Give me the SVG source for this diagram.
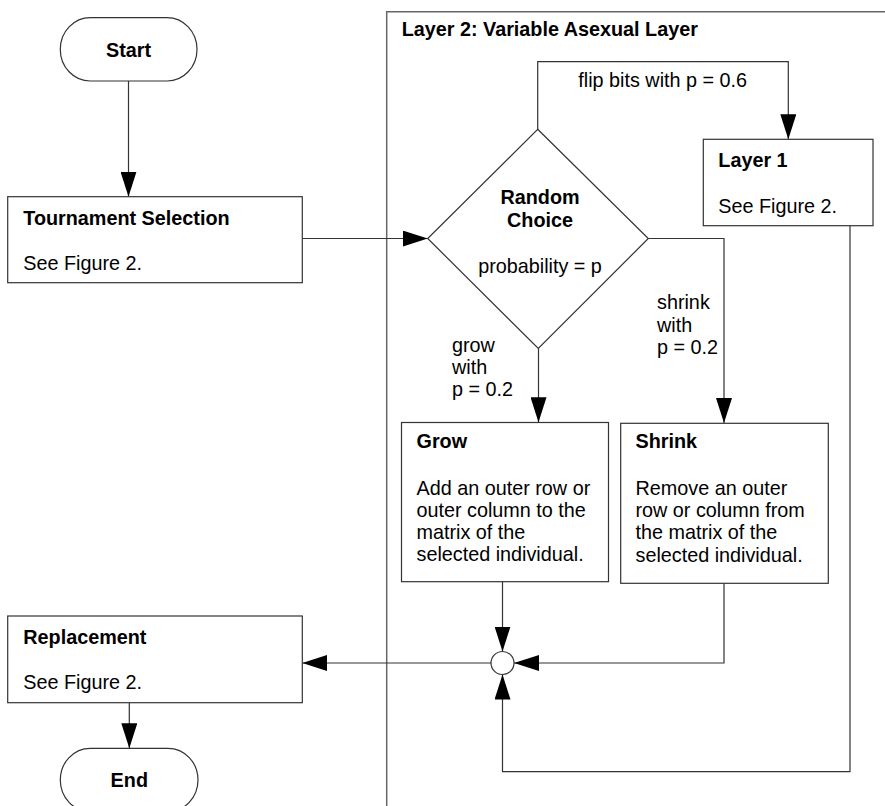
<svg xmlns="http://www.w3.org/2000/svg" width="885" height="806" viewBox="0 0 885 806">
<style>
text{font-family:"Liberation Sans",Arial,sans-serif;font-size:19.8px;fill:#000}
.b{font-weight:bold}
.m{text-anchor:middle}
.box{fill:#fff;stroke:#333;stroke-width:1.2}
.ln{fill:none;stroke:#333;stroke-width:1.2}
.cont{fill:none;stroke:#666;stroke-width:1.5}
</style>
<defs>
<marker id="ah" viewBox="0 0 25 16" refX="25" refY="8" markerWidth="25" markerHeight="16" markerUnits="userSpaceOnUse" orient="auto">
<path d="M0,0 L25,8 L0,16 z" fill="#000"/>
</marker>
</defs>
<rect width="885" height="806" fill="#fff"/>
<g id="layer2">
<path class="cont" d="M386.7,806 V11.7 H885"/>
<text class="b" x="401.7" y="36">Layer 2: Variable Asexual Layer</text>
</g>
<g id="connectors">
<path class="ln" d="M128.5,81 V196.7" marker-end="url(#ah)"/>
<path class="ln" d="M302.3,238.5 H427.7" marker-end="url(#ah)"/>
<path class="ln" d="M537.7,129.3 V61.7 H788.3 V139.3" marker-end="url(#ah)"/>
<path class="ln" d="M648.3,238.5 H724 V423" marker-end="url(#ah)"/>
<path class="ln" d="M538.5,348.5 V422.3" marker-end="url(#ah)"/>
<path class="ln" d="M502.5,581.7 V651.5" marker-end="url(#ah)"/>
<path class="ln" d="M724,583.3 V663 H514" marker-end="url(#ah)"/>
<path class="ln" d="M850,225.7 V771.7 H502.5 V674.5" marker-end="url(#ah)"/>
<path class="ln" d="M491,663 H302.3" marker-end="url(#ah)"/>
<path class="ln" d="M129.3,702.7 V748.3" marker-end="url(#ah)"/>
<text x="578.3" y="87.3">flip bits with p = 0.6</text>
<text x="657" y="309.3">shrink</text>
<text x="657" y="331.5">with</text>
<text x="657" y="353.7">p = 0.2</text>
<text x="452" y="351.7">grow</text>
<text x="452" y="374">with</text>
<text x="452" y="396.2">p = 0.2</text>
</g>
<g id="start">
<rect class="box" x="60.3" y="17.7" width="136.7" height="63.3" rx="30" ry="31.6"/>
<text class="b m" x="128.5" y="57">Start</text>
</g>
<g id="tournament">
<rect class="box" x="7.7" y="196.7" width="294.6" height="86"/>
<text class="b" x="23.3" y="225">Tournament Selection</text>
<text x="23.3" y="270">See Figure 2.</text>
</g>
<g id="choice">
<path class="box" d="M537.7,129.3 L648.3,238.5 L538.3,348.5 L427.7,238.5 z"/>
<text class="b m" x="540" y="204.3">Random</text>
<text class="b m" x="540" y="226.7">Choice</text>
<text class="m" x="540" y="272.7">probability = p</text>
</g>
<g id="layer1">
<rect class="box" x="703.3" y="139.3" width="169.7" height="86.4"/>
<text class="b" x="718.3" y="166.7">Layer 1</text>
<text x="718.3" y="212.5">See Figure 2.</text>
</g>
<g id="grow">
<rect class="box" x="401.5" y="422.5" width="207" height="159.2"/>
<text class="b" x="416.5" y="447.7">Grow</text>
<text x="416.5" y="494.5">Add an outer row or</text>
<text x="416.5" y="516.7">outer column to the</text>
<text x="416.5" y="538.9">matrix of the</text>
<text x="416.5" y="561.1">selected individual.</text>
</g>
<g id="shrink">
<rect class="box" x="620.7" y="423.3" width="207.6" height="160"/>
<text class="b" x="635.5" y="448.3">Shrink</text>
<text x="635.5" y="495">Remove an outer</text>
<text x="635.5" y="517.2">row or column from</text>
<text x="635.5" y="539.4">the matrix of the</text>
<text x="635.5" y="561.6">selected individual.</text>
</g>
<g id="merge">
<circle class="box" cx="502.5" cy="663" r="11.5"/>
</g>
<g id="replacement">
<rect class="box" x="7.7" y="616" width="294.6" height="86.7"/>
<text class="b" x="23.3" y="644.3">Replacement</text>
<text x="23.3" y="689">See Figure 2.</text>
</g>
<g id="end">
<rect class="box" x="60.3" y="748.3" width="137.7" height="63.3" rx="30" ry="31.6"/>
<text class="b m" x="129.3" y="786.7">End</text>
</g>
</svg>
